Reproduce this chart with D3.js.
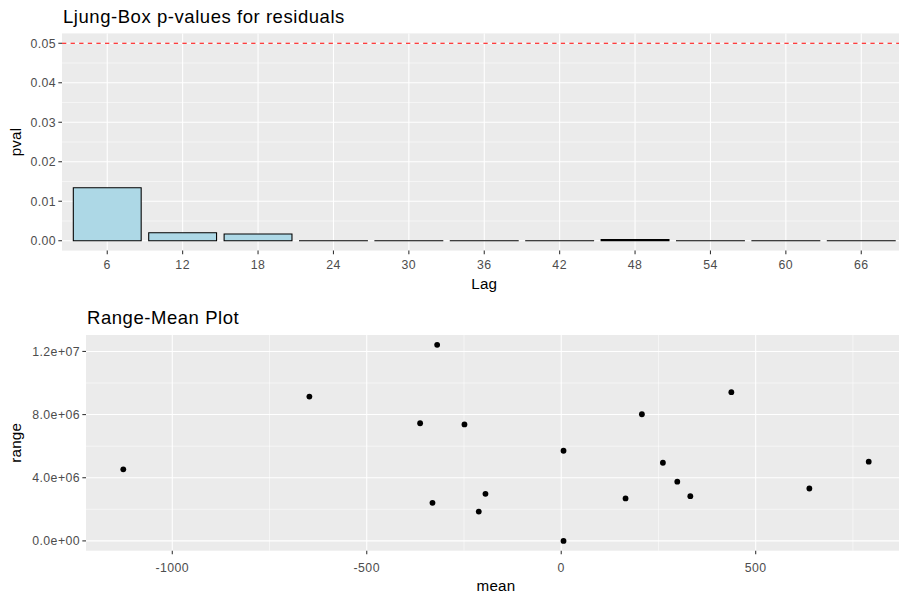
<!DOCTYPE html>
<html>
<head>
<meta charset="utf-8">
<script src="https://cdn.jsdelivr.net/npm/d3@7"></script>
<style>
  html, body { margin: 0; padding: 0; background: #fff; }
  svg { display: block; }
  text { font-family: "Liberation Sans", Arial, sans-serif; }
</style>
</head>
<body>
<svg id="chart" width="899" height="596"></svg>
<script>
// Ljung-Box p-values at each lag
const lags = [6, 12, 18, 24, 30, 36, 42, 48, 54, 60, 66];
const pvals = [0.01342, 0.00203, 0.0017, 0.00001, 0.00001, 0.00001, 0.00001, 0.00028, 0.00001, 0.00001, 0.00001];
const pTicks = [0, 0.01, 0.02, 0.03, 0.04, 0.05];
const pTickLabels = ["0.00", "0.01", "0.02", "0.03", "0.04", "0.05"];
const pMinor = [0.005, 0.015, 0.025, 0.035, 0.045];
const threshold = 0.05;

// Range-mean pairs
const means = [-1126, -647.5, -319, -362.8, -331, -248.8, -194.8, -212, 5.9, 5.9, 165.4, 207.4, 261.4, 298.4, 331.9, 437.4, 638, 790.6];
const ranges = [4.53e6, 9.14e6, 12.42e6, 7.45e6, 2.41e6, 7.38e6, 2.98e6, 1.86e6, 5.71e6, 0.0, 2.69e6, 8.02e6, 4.95e6, 3.75e6, 2.83e6, 9.42e6, 3.32e6, 5.02e6];
const meanTicks = [-1000, -500, 0, 500];
const meanTickLabels = ["-1000", "-500", "0", "500"];
const meanMinor = [-750, -250, 250, 750];
const rangeTicks = [0, 4e6, 8e6, 12e6];
const rangeTickLabels = ["0.0e+00", "4.0e+06", "8.0e+06", "1.2e+07"];
const rangeMinor = [2e6, 6e6, 10e6];

const svg = d3.select("#chart");
const PANEL_BG = "#EBEBEB";
const TICK_COL = "#333333";
const LABEL_COL = "#4D4D4D";
const TICK_LEN = 3.67;
const TICK_FONT = 12.3, TICK_SPACING = 0.45;
const TITLE_FONT = 18.5, TITLE_SPACING = 0.55;
const AXIS_TITLE_FONT = 15.2, AXIS_TITLE_SPACING = 0.2;

function panelFrame(g, x0, x1, y0, y1) {
  g.append("rect").attr("x", x0).attr("y", y0)
    .attr("width", x1 - x0).attr("height", y1 - y0).attr("fill", PANEL_BG);
}
function hLines(g, ys, x0, x1, w) {
  g.selectAll(null).data(ys).join("line")
    .attr("x1", x0).attr("x2", x1).attr("y1", d => d).attr("y2", d => d)
    .attr("stroke", "#fff").attr("stroke-width", w);
}
function vLines(g, xs, y0, y1, w) {
  g.selectAll(null).data(xs).join("line")
    .attr("x1", d => d).attr("x2", d => d).attr("y1", y0).attr("y2", y1)
    .attr("stroke", "#fff").attr("stroke-width", w);
}
function yAxis(g, ys, labels, xLeft) {
  g.selectAll(null).data(ys).join("line")
    .attr("x1", xLeft - TICK_LEN).attr("x2", xLeft).attr("y1", d => d).attr("y2", d => d)
    .attr("stroke", TICK_COL).attr("stroke-width", 1.07);
  g.selectAll(null).data(ys).join("text")
    .attr("x", xLeft - TICK_LEN - 2.2).attr("y", d => d).attr("dy", "0.35em")
    .attr("text-anchor", "end").attr("font-size", TICK_FONT)
    .attr("letter-spacing", TICK_SPACING).attr("fill", LABEL_COL)
    .text((d, i) => labels[i]);
}
function xAxis(g, xs, labels, yBottom, baseline) {
  g.selectAll(null).data(xs).join("line")
    .attr("x1", d => d).attr("x2", d => d).attr("y1", yBottom).attr("y2", yBottom + TICK_LEN)
    .attr("stroke", TICK_COL).attr("stroke-width", 1.07);
  g.selectAll(null).data(xs).join("text")
    .attr("x", d => d).attr("y", baseline)
    .attr("text-anchor", "middle").attr("font-size", TICK_FONT)
    .attr("letter-spacing", TICK_SPACING).attr("fill", LABEL_COL)
    .text((d, i) => labels[i]);
}
function titles(g, title, tx, ty, xlab, xlx, xly, ylab, ylx, yly) {
  g.append("text").attr("x", tx).attr("y", ty).attr("font-size", TITLE_FONT)
    .attr("letter-spacing", TITLE_SPACING).attr("fill", "#000").text(title);
  g.append("text").attr("x", xlx).attr("y", xly).attr("text-anchor", "middle")
    .attr("font-size", AXIS_TITLE_FONT).attr("letter-spacing", AXIS_TITLE_SPACING)
    .attr("fill", "#000").text(xlab);
  g.append("text").attr("transform", `translate(${ylx},${yly}) rotate(-90)`)
    .attr("text-anchor", "middle").attr("font-size", AXIS_TITLE_FONT)
    .attr("letter-spacing", AXIS_TITLE_SPACING).attr("fill", "#000").text(ylab);
}

// ---------- Ljung-Box bar chart ----------
{
  const L = 62, R = 906.5, T = 33.4, B = 250.6;
  const g = svg.append("g");
  const x = d3.scalePoint().domain(lags).range([L, R]).padding(0.6);
  const y = d3.scaleLinear().domain([-0.0025, 0.0525]).range([B, T]);
  const bw = x.step() * 0.9;

  panelFrame(g, L, R, T, B);
  hLines(g, pMinor.map(y), L, R, 0.53);
  hLines(g, pTicks.map(y), L, R, 1.07);
  vLines(g, lags.map(x), T, B, 1.07);

  g.selectAll(null).data(lags).join("path")
    .attr("d", (d, i) => {
      const x0 = x(d) - bw / 2, x1 = x(d) + bw / 2, y0 = y(0), y1 = y(pvals[i]);
      return `M${x0},${y0}H${x1}V${y1}H${x0}Z`;
    })
    .attr("fill", "#ADD8E6").attr("stroke", "#000").attr("stroke-width", 1.07);

  g.append("line")
    .attr("x1", L).attr("x2", R).attr("y1", y(threshold)).attr("y2", y(threshold))
    .attr("stroke", "#FF0000").attr("stroke-width", 1.07).attr("stroke-dasharray", "4.3,4.3");

  yAxis(g, pTicks.map(y), pTickLabels, L);
  xAxis(g, lags.map(x), lags.map(String), B, 268.5);

  titles(g, "Ljung-Box p-values for residuals", L + 1, 23,
    "Lag", (L + R) / 2, 288.5, "pval", 21, (T + B) / 2);
}

// ---------- Range-mean scatter ----------
{
  const L = 86, R = 906, T = 335, B = 550.7;
  const g = svg.append("g");
  const mx = d3.extent(means), ry = d3.extent(ranges);
  const padX = (mx[1] - mx[0]) * 0.05, padY = (ry[1] - ry[0]) * 0.05;
  const x = d3.scaleLinear().domain([mx[0] - padX, mx[1] + padX]).range([L, R]);
  const y = d3.scaleLinear().domain([ry[0] - padY, ry[1] + padY]).range([B, T]);

  panelFrame(g, L, R, T, B);
  hLines(g, rangeMinor.map(y), L, R, 0.53);
  vLines(g, meanMinor.map(x), T, B, 0.53);
  hLines(g, rangeTicks.map(y), L, R, 1.07);
  vLines(g, meanTicks.map(x), T, B, 1.07);

  g.selectAll(null).data(means).join("circle")
    .attr("cx", d => x(d)).attr("cy", (d, i) => y(ranges[i]))
    .attr("r", 2.9).attr("fill", "#000");

  yAxis(g, rangeTicks.map(y), rangeTickLabels, L);
  xAxis(g, meanTicks.map(x), meanTickLabels, B, 571.5);

  titles(g, "Range-Mean Plot", L + 1, 324,
    "mean", (L + R) / 2, 590.5, "range", 21, (T + B) / 2);
}
</script>
</body>
</html>
